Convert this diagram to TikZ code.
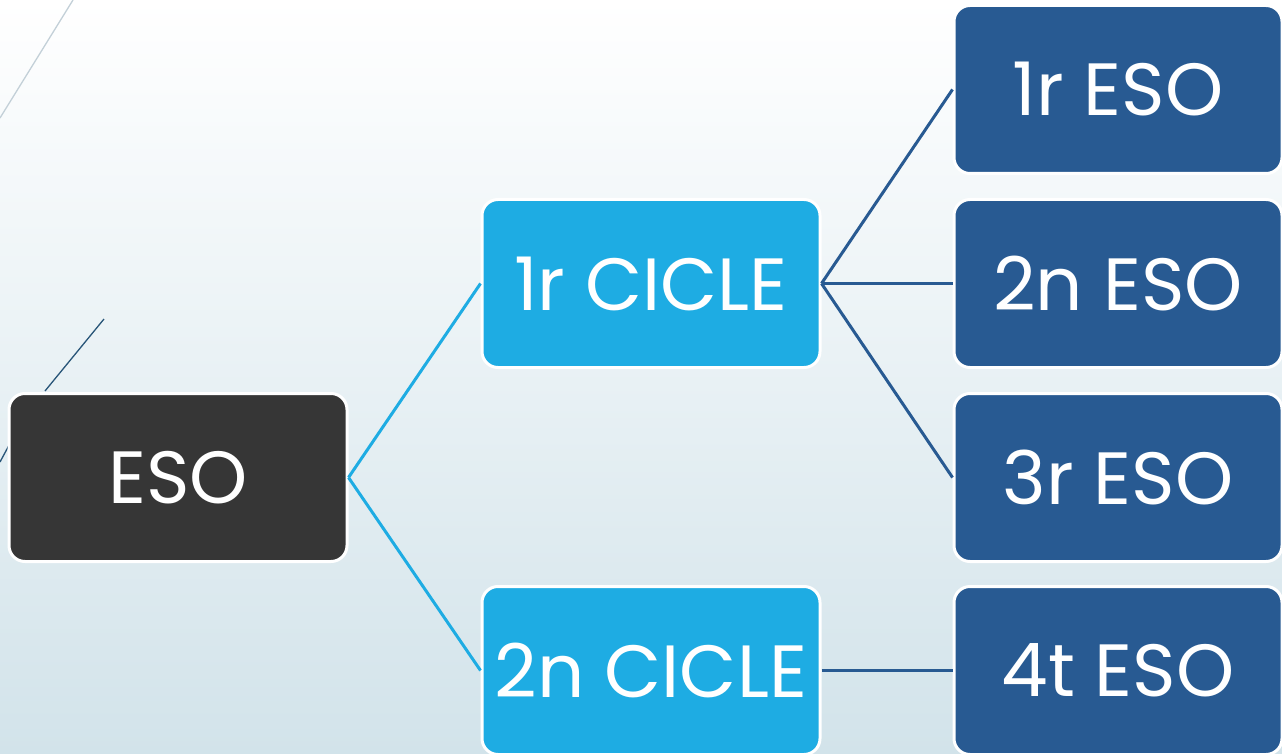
\documentclass[tikz,border=0pt]{standalone}
\usepackage{fontspec}
\setmainfont{Poppins}
\definecolor{esodark}{RGB}{54,54,54}
\definecolor{ciclebl}{RGB}{30,172,227}
\definecolor{esobl}{RGB}{40,90,146}
\definecolor{bgbot}{RGB}{210,227,234}
\definecolor{decgrey}{RGB}{195,208,216}
\definecolor{decdark}{RGB}{40,85,120}
\tikzset{
  box/.style={draw=white, line width=3pt, rounded corners=16pt, minimum width=338pt, minimum height=168pt, inner sep=0pt, text=white, font=\fontsize{74}{84}\selectfont},
  rootbox/.style={box, fill=esodark},
  ciclebox/.style={box, fill=ciclebl},
  esobox/.style={box, fill=esobl, minimum width=328pt},
  lightlink/.style={draw=ciclebl, line width=3pt},
  darklink/.style={draw=esobl, line width=3pt}
}
\begin{document}
\begin{tikzpicture}[x=1pt,y=-1pt]
\shade[top color=white, bottom color=bgbot] (0,0) rectangle (1282,754);
\useasboundingbox (0,0) rectangle (1282,754);
% decorative lines
\coordinate (d1a) at (0,118);
\coordinate (d1b) at (73,0);
\draw[decgrey, line width=1.3pt] (d1a) -- (d1b);
\coordinate (d2a) at (45,391);
\coordinate (d2b) at (104,319);
\draw[decdark, line width=1.3pt] (d2a) -- (d2b);
\coordinate (d3a) at (0,462);
\coordinate (d3b) at (14,436);
\draw[decdark, line width=1.3pt] (d3a) -- (d3b);
% nodes
\node[rootbox] (eso) at (178,477.5) {ESO};
\node[ciclebox] (c1) at (651,283.5) {1r CICLE};
\node[ciclebox] (c2) at (651,670.5) {2n CICLE};
\node[esobox] (e1) at (1118,89.5) {1r ESO};
\node[esobox] (e2) at (1118,283.5) {2n ESO};
\node[esobox] (e3) at (1118,477.5) {3r ESO};
\node[esobox] (e4) at (1118,670.5) {4t ESO};
% connectors
\draw[lightlink] (eso.east) -- (c1.west);
\draw[lightlink] (eso.east) -- (c2.west);
\draw[darklink] (c1.east) -- (e1.west);
\draw[darklink] (c1.east) -- (e2.west);
\draw[darklink] (c1.east) -- (e3.west);
\draw[darklink] (c2.east) -- (e4.west);
\end{tikzpicture}
\end{document}
